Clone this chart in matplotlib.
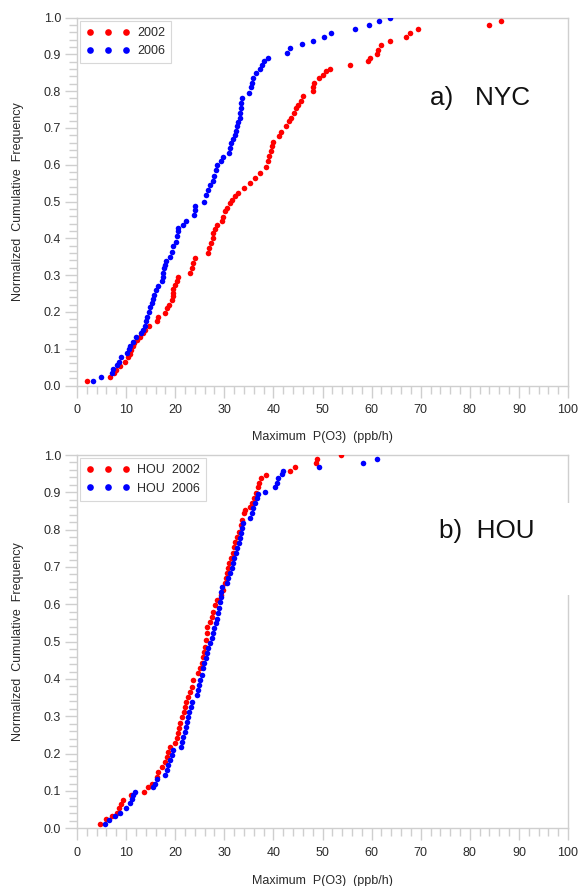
import matplotlib
matplotlib.use("Agg")
import matplotlib.pyplot as plt
from matplotlib.lines import Line2D
from matplotlib.patches import Rectangle
from matplotlib.ticker import MultipleLocator

plt.rcParams['font.family'] = ['Liberation Sans', 'DejaVu Sans']

# ---------------- data ----------------
nyc2002_x = [2.0, 6.8, 7.6, 8.0, 8.7, 9.8, 10.4, 10.7, 11.0, 11.4, 11.6, 12.2, 12.9, 13.5, 13.9,
             14.6, 16.2, 16.4, 17.9, 18.4, 18.8, 19.3, 19.5, 19.6, 19.6, 20.0, 20.3, 20.6, 23.0,
             23.4, 23.7, 24.0, 26.6, 26.9, 27.2, 27.6, 27.8, 28.2, 28.5, 29.6, 29.8, 30.1, 30.5,
             31.1, 31.5, 32.1, 32.8, 34.1, 35.3, 36.3, 37.2, 38.5, 38.9, 39.2, 39.5, 39.7, 40.0,
             41.2, 41.6, 42.6, 43.1, 43.6, 44.1, 44.6, 45.1, 45.6, 46.1, 48.0, 48.1, 48.3, 49.3,
             50.0, 50.7, 51.5, 55.6, 59.3, 59.7, 61.0, 61.3, 61.9, 63.7, 67.1, 67.8, 69.4, 83.9,
             86.4]
nyc2002_y = [0.012, 0.024, 0.035, 0.042, 0.054, 0.065, 0.077, 0.086, 0.097, 0.106, 0.115, 0.124,
             0.133, 0.142, 0.151, 0.162, 0.176, 0.187, 0.198, 0.21, 0.219, 0.231, 0.242, 0.252,
             0.262, 0.273, 0.284, 0.294, 0.305, 0.319, 0.332, 0.346, 0.36, 0.373, 0.387, 0.40,
             0.414, 0.425, 0.436, 0.446, 0.459, 0.473, 0.482, 0.496, 0.505, 0.514, 0.523, 0.537,
             0.55, 0.564, 0.577, 0.595, 0.609, 0.623, 0.636, 0.65, 0.663, 0.677, 0.689, 0.704,
             0.718, 0.727, 0.741, 0.754, 0.763, 0.774, 0.786, 0.80, 0.81, 0.822, 0.836, 0.845,
             0.854, 0.861, 0.871, 0.881, 0.89, 0.902, 0.913, 0.925, 0.937, 0.946, 0.958, 0.968,
             0.979, 0.99]

nyc2006_x = [3.25, 4.9, 7.1, 7.3, 8.1, 8.5, 9.0, 10.2, 10.6, 10.8, 11.4, 12.0, 13.1, 13.5, 13.9,
             14.0, 14.2, 14.7, 14.9, 15.2, 15.4, 15.7, 16.1, 16.4, 17.3, 17.5, 17.6, 17.8, 17.9,
             18.1, 18.9, 19.3, 19.6, 20.1, 20.4, 20.6, 20.6, 21.5, 22.3, 23.9, 24.0, 24.0, 25.8,
             26.3, 26.7, 27.0, 27.6, 28.0, 28.4, 28.5, 29.4, 29.8, 30.9, 31.1, 31.4, 31.7, 32.1,
             32.3, 32.5, 32.8, 33.1, 33.2, 33.4, 33.5, 33.6, 35.0, 35.5, 35.7, 35.9, 36.5, 37.2,
             37.7, 38.0, 39.0, 42.7, 43.4, 45.9, 48.1, 50.4, 51.7, 56.6, 59.5, 61.5, 63.7]
nyc2006_y = [0.012, 0.024, 0.035, 0.044, 0.056, 0.065, 0.077, 0.088, 0.098, 0.107, 0.119, 0.131,
             0.142, 0.151, 0.162, 0.176, 0.187, 0.20, 0.213, 0.224, 0.235, 0.246, 0.26, 0.271,
             0.283, 0.294, 0.305, 0.319, 0.328, 0.337, 0.35, 0.364, 0.378, 0.391, 0.405, 0.419,
             0.428, 0.437, 0.448, 0.464, 0.478, 0.488, 0.50, 0.518, 0.532, 0.546, 0.557, 0.568,
             0.586, 0.598, 0.609, 0.62, 0.632, 0.645, 0.659, 0.671, 0.682, 0.692, 0.704, 0.716,
             0.727, 0.741, 0.754, 0.768, 0.781, 0.795, 0.81, 0.822, 0.836, 0.85, 0.861, 0.872,
             0.881, 0.89, 0.904, 0.916, 0.927, 0.937, 0.946, 0.958, 0.968, 0.979, 0.99, 1.0]

hou2002_x = [4.7, 6.0, 7.1, 8.1, 8.55, 8.9, 9.4, 11.0, 13.7, 14.5, 15.3, 16.2, 16.4, 17.25, 17.9,
             18.3, 18.6, 18.9, 20.0, 20.3, 20.5, 20.8, 21.0, 21.3, 21.7, 22.0, 22.3, 22.7, 23.0,
             23.4, 23.7, 24.7, 25.05, 25.4, 25.7, 25.9, 26.1, 26.3, 26.4, 26.5, 27.1, 27.4, 27.8,
             28.1, 28.45, 29.3, 29.7, 30.1, 30.35, 30.5, 30.7, 31.0, 31.4, 31.7, 32.0, 32.2, 32.5,
             33.0, 33.4, 33.7, 34.1, 34.2, 35.2, 35.7, 36.1, 36.5, 36.8, 37.1, 37.5, 38.4, 43.4,
             44.4, 48.7, 48.8, 53.7]
hou2002_y = [0.0115, 0.024, 0.033, 0.042, 0.054, 0.065, 0.076, 0.089, 0.098, 0.11, 0.12, 0.138,
             0.152, 0.165, 0.178, 0.192, 0.205, 0.219, 0.228, 0.241, 0.254, 0.268, 0.281, 0.299,
             0.312, 0.326, 0.339, 0.353, 0.366, 0.379, 0.397, 0.415, 0.429, 0.442, 0.46, 0.473,
             0.486, 0.504, 0.522, 0.54, 0.553, 0.567, 0.58, 0.598, 0.612, 0.625, 0.638, 0.656,
             0.67, 0.683, 0.697, 0.71, 0.723, 0.737, 0.754, 0.768, 0.781, 0.795, 0.812, 0.826,
             0.844, 0.853, 0.86, 0.871, 0.884, 0.897, 0.913, 0.926, 0.938, 0.946, 0.957, 0.967,
             0.978, 0.989, 1.0]

hou2006_x = [5.8, 6.5, 7.7, 8.8, 9.9, 10.8, 11.1, 11.5, 11.8, 15.5, 15.9, 16.2, 17.9, 18.3, 18.6,
             18.9, 19.3, 19.6, 21.2, 21.45, 21.65, 22.0, 22.2, 22.5, 22.7, 22.9, 23.2, 23.4, 24.4,
             24.6, 24.85, 25.05, 25.4, 25.7, 25.9, 26.2, 26.5, 26.7, 27.1, 27.4, 27.8, 28.0, 28.25,
             28.45, 28.65, 28.9, 29.1, 29.3, 29.3, 29.5, 30.5, 30.8, 31.2, 31.5, 31.7, 32.0, 32.3,
             32.5, 32.9, 33.2, 33.5, 33.7, 33.9, 35.2, 35.6, 35.9, 36.25, 36.6, 36.9, 38.3, 40.3,
             40.7, 41.0, 41.7, 42.0, 49.3, 58.2, 61.2]
hou2006_y = [0.0115, 0.022, 0.033, 0.042, 0.054, 0.067, 0.078, 0.089, 0.098, 0.11, 0.12, 0.131,
             0.143, 0.156, 0.17, 0.183, 0.196, 0.21, 0.219, 0.232, 0.245, 0.259, 0.272, 0.286,
             0.299, 0.312, 0.326, 0.339, 0.357, 0.371, 0.384, 0.397, 0.411, 0.429, 0.442, 0.455,
             0.469, 0.482, 0.496, 0.509, 0.522, 0.536, 0.549, 0.562, 0.576, 0.589, 0.607, 0.62,
             0.634, 0.647, 0.658, 0.67, 0.683, 0.697, 0.71, 0.723, 0.737, 0.75, 0.763, 0.777,
             0.79, 0.804, 0.817, 0.83, 0.844, 0.857, 0.871, 0.884, 0.895, 0.902, 0.913, 0.924,
             0.938, 0.949, 0.958, 0.967, 0.978, 0.989]

x_ticks = [0, 10, 20, 30, 40, 50, 60, 70, 80, 90, 100]
y_ticks = [0.0, 0.1, 0.2, 0.3, 0.4, 0.5, 0.6, 0.7, 0.8, 0.9, 1.0]
top_labels = ['2002', '2006']
bottom_labels = ['HOU  2002', 'HOU  2006']
colors = ['#ff0000', '#0000ff']
xlabel = 'Maximum  P(O3)  (ppb/h)'
ylabel = 'Normalized  Cumulative  Frequency'

# ---------------- figure ----------------
W, H = 580, 886
fig = plt.figure(figsize=(W / 100, H / 100), dpi=100)

def px_axes(left, top, right, bottom):
    return fig.add_axes([left / W, 1 - bottom / H, (right - left) / W, (bottom - top) / H])

ax1 = px_axes(77, 17.5, 568, 385.5)
ax2 = px_axes(77, 455, 568, 828.3)

grey = '#cfcfcf'
tick_txt = '#2a2a2a'

def style(ax):
    ax.set_xlim(0, 100)
    ax.set_ylim(0, 1.0)
    ax.set_xticks(x_ticks)
    ax.set_yticks(y_ticks)
    ax.set_yticklabels([f'{v:.1f}' for v in y_ticks])
    ax.xaxis.set_minor_locator(MultipleLocator(2))
    ax.yaxis.set_minor_locator(MultipleLocator(0.02))
    for s in ax.spines.values():
        s.set_color(grey)
        s.set_linewidth(1.0)
    ax.tick_params(axis='both', which='major', direction='out', length=8.5, width=1.0,
                   color=grey, labelsize=9, labelcolor=tick_txt)
    ax.tick_params(axis='both', which='minor', direction='out', length=6, width=1.0, color=grey)
    ax.tick_params(axis='y', which='major', pad=3)
    ax.tick_params(axis='x', which='major', pad=5)
    ax.set_xlabel(xlabel, fontsize=9, color=tick_txt)
    ax.set_ylabel(ylabel, fontsize=9, color=tick_txt)
    ax.xaxis.set_label_coords(0.5, -0.124)
    ax.yaxis.set_label_coords(-0.108, 0.5)

def legend(ax, labels):
    handles = [Line2D([], [], linestyle='none', marker='o', markersize=4.8, color=c,
                      markeredgewidth=0) for c in colors]
    lg = ax.legend(handles, labels, loc='upper left', numpoints=3, handlelength=3.5,
                   handletextpad=0.55, borderaxespad=0.25, borderpad=0.5, labelspacing=0.5,
                   fancybox=False, framealpha=1, edgecolor='#d8d8d8', fontsize=9)
    lg.get_frame().set_linewidth(0.8)
    for t in lg.get_texts():
        t.set_color(tick_txt)

ms = 16
style(ax1)
ax1.scatter(nyc2002_x, nyc2002_y, s=ms, color=colors[0], linewidths=0, zorder=3)
ax1.scatter(nyc2006_x, nyc2006_y, s=ms, color=colors[1], linewidths=0, zorder=3)
legend(ax1, top_labels)
ax1.text(0.718, 0.78, 'a)   NYC', transform=ax1.transAxes, fontsize=18.8, color='#111111',
         ha='left', va='center')

style(ax2)
ax2.scatter(hou2002_x, hou2002_y, s=ms, color=colors[0], linewidths=0, zorder=3)
ax2.scatter(hou2006_x, hou2006_y, s=ms, color=colors[1], linewidths=0, zorder=3)
legend(ax2, bottom_labels)
ax2.text(0.738, 0.796, 'b)  HOU', transform=ax2.transAxes, fontsize=18.8, color='#111111',
         ha='left', va='center')

# white box of the label that hides part of the right frame in panel b
fig.add_artist(Rectangle((555 / W, 1 - 595 / H), 25 / W, 92 / H, transform=fig.transFigure,
                         facecolor='white', edgecolor='none', zorder=5))

fig.savefig('out.png', dpi=100, facecolor='white')
